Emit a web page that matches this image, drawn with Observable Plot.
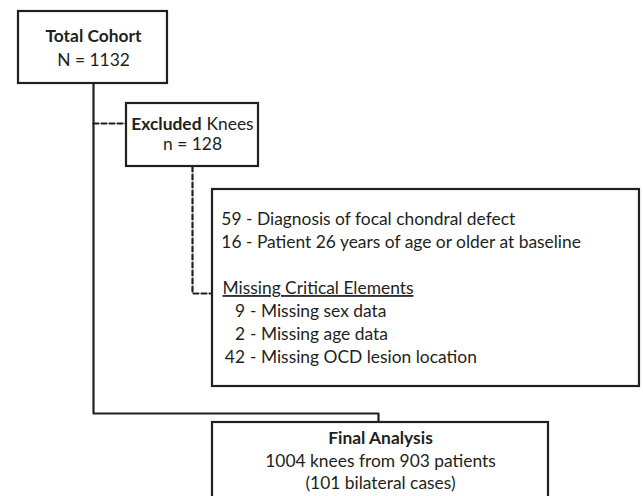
<!DOCTYPE html>
<html>
<head>
<meta charset="utf-8">
<script src="https://cdn.jsdelivr.net/npm/d3@7"></script>
<script src="https://cdn.jsdelivr.net/npm/@observablehq/plot@0.6"></script>
<style>
  html, body { margin: 0; padding: 0; background: #fff; overflow: hidden; }
  svg text { font-family: Lato, "Open Sans", sans-serif; }
</style>
</head>
<body>
<div id="chart"></div>
<script>
// ---- content (text and numbers) ----
const cohortTitle = "Total Cohort";
const cohortN = 1132;
const excludedTitle = "Excluded";
const excludedWord = "Knees";
const excludedN = 128;
const reasonCounts = [59, 16];
const reasonLabels = ["Diagnosis of focal chondral defect", "Patient 26 years of age or older at baseline"];
const missingHeader = "Missing Critical Elements";
const missingCounts = [9, 2, 42];
const missingLabels = ["Missing sex data", "Missing age data", "Missing OCD lesion location"];
const finalTitle = "Final Analysis";
const finalKnees = 1004;
const finalPatients = 903;
const finalBilateral = 101;

// ---- layout (pixel space of the diagram) ----
const W = 643, H = 496;
const boxes = [
  {x1: 18, x2: 167, y1: 11, y2: 83},
  {x1: 126, x2: 258, y1: 103, y2: 166},
  {x1: 212, x2: 639, y1: 189, y2: 386},
  {x1: 212, x2: 548, y1: 422, y2: 520}
];
const solidPath = [
  {x: 93, y: 83}, {x: 93, y: 413}, {x: 378, y: 413}, {x: 378, y: 422}
];
const dashedPaths = [
  {id: "a", x: 93, y: 123}, {id: "a", x: 126, y: 123},
  {id: "b", x: 192, y: 166}, {id: "b", x: 192, y: 293}, {id: "b", x: 212, y: 293}
];

const ink = "#231f20";
const fs = 17.4;

const centerText = [
  {x: 93, y: 36, t: cohortTitle, bold: true},
  {x: 93, y: 60, t: `N = ${cohortN}`},
  {x: 192, y: 144, t: `n = ${excludedN}`},
  {x: 380, y: 438, t: finalTitle, bold: true},
  {x: 380, y: 461, t: `${finalKnees} knees from ${finalPatients} patients`},
  {x: 380, y: 483, t: `(${finalBilateral} bilateral cases)`}
];

const reasonRows = reasonCounts.map((n, i) => ({n, label: reasonLabels[i], y: 219 + i * 23}));
const missingRows = missingCounts.map((n, i) => ({n, label: missingLabels[i], y: 311 + i * 23}));

const plot = Plot.plot({
  width: W, height: H,
  margin: 0,
  x: {domain: [0, W], range: [0, W], axis: null},
  y: {domain: [0, H], range: [0, H], axis: null},
  style: {background: "#fff", overflow: "hidden"},
  marks: [
    Plot.line(solidPath, {x: "x", y: "y", stroke: ink, strokeWidth: 2.2, curve: "linear"}),
    Plot.line(dashedPaths, {x: "x", y: "y", z: "id", stroke: ink, strokeWidth: 2.2, strokeDasharray: "5,3"}),
    Plot.rect(boxes, {x1: "x1", x2: "x2", y1: "y1", y2: "y2", fill: "#fff", stroke: ink, strokeWidth: 2.2}),
    Plot.text(centerText.filter(d => d.bold), {x: "x", y: "y", text: "t", fontSize: fs, fontWeight: "bold", fill: ink}),
    Plot.text(centerText.filter(d => !d.bold), {x: "x", y: "y", text: "t", fontSize: fs, fill: ink}),
    Plot.text([excludedTitle], {x: () => 201, y: () => 124, text: d => d, textAnchor: "end", fontSize: fs, fontWeight: "bold", fill: ink}),
    Plot.text([excludedWord], {x: () => 206, y: () => 124, text: d => d, textAnchor: "start", fontSize: fs, fill: ink}),
    Plot.text(reasonRows, {x: () => 241, y: "y", text: d => String(d.n), textAnchor: "end", fontSize: fs, fill: ink}),
    Plot.text(reasonRows, {x: () => 245.5, y: "y", text: d => "- " + d.label, textAnchor: "start", fontSize: fs, fill: ink}),
    Plot.text([missingHeader], {x: () => 222, y: () => 288, text: d => d, textAnchor: "start", fontSize: fs, fill: ink, className: "underlined"}),
    Plot.text(missingRows, {x: () => 244.5, y: "y", text: d => String(d.n), textAnchor: "end", fontSize: fs, fill: ink}),
    Plot.text(missingRows, {x: () => 249.5, y: "y", text: d => "- " + d.label, textAnchor: "start", fontSize: fs, fill: ink})
  ]
});
d3.select(plot).selectAll("g.underlined text").attr("text-decoration", "underline");
document.getElementById("chart").appendChild(plot);
</script>
</body>
</html>
